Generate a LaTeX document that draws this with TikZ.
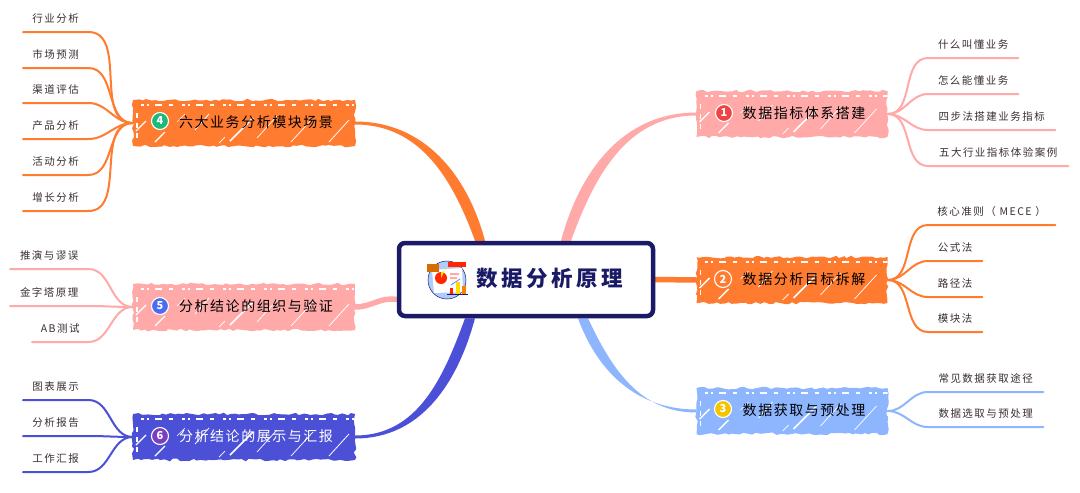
\documentclass[tikz,border=0pt]{standalone}
\usepackage{fontspec}
\setmainfont{Noto Sans CJK SC}
\newfontfamily\leaffont[LetterSpace=14]{Noto Sans CJK SC}
\newfontfamily\topicfont[LetterSpace=11]{Noto Sans CJK SC}
\newfontfamily\rootfont[LetterSpace=16]{Noto Sans CJK SC}
\usetikzlibrary{decorations.pathmorphing}
\pgfdeclarelayer{background}
\pgfsetlayers{background,main}
\definecolor{pinkbr}{HTML}{FFA9A9}
\definecolor{orangebr}{HTML}{FF7B30}
\definecolor{skybr}{HTML}{8DB6FF}
\definecolor{indigobr}{HTML}{4B50D6}
\definecolor{navyroot}{HTML}{1A1A66}
\definecolor{leafink}{HTML}{3A2E2E}
\definecolor{badgered}{HTML}{F04444}
\definecolor{badgeyellow}{HTML}{F5C400}
\definecolor{badgegreen}{HTML}{1DB97A}
\definecolor{badgeblue}{HTML}{4A6CF0}
\definecolor{badgeviolet}{HTML}{7A3FBF}
% white pencil marks, measured from the start of the topic's text line
\newcommand{\scribble}{%
  \draw[white,line width=2.2,dash pattern=on 3pt off 3pt on 2pt off 6pt on 7pt off 7pt on 4pt off 9pt] (-14,-22.5) -- (203,-22.5);
  \draw[white,line width=1.4,dash pattern=on 5pt off 5pt] (-18,-14.5) -- (-18,12.5);
  \draw[white,line width=1.4] (-19,3.5) -- (-9,-6.5);
  \draw[white,line width=1.4] (0,14.5) -- (10,4.5);
  \draw[white,line width=.6] (22,-5.5) -- (30,-13.5);
  \draw[white,line width=.8] (40,2.5) -- (54,-13.5);
  \draw[white,line width=1.6] (75,13.5) -- (98,-9.5);
  \draw[white,line width=.7] (64,15.5) -- (70,9.5);
  \draw[white,line width=.7] (102,10.5) -- (122,-11.5);
  \draw[white,line width=.7] (136,14.5) -- (158,-9.5);
  \draw[white,line width=.8] (174,14.5) -- (194,-7.5);}
\begin{document}
\begin{tikzpicture}
                [
                x=1pt,y=-1pt,
                rootbox/.style={rectangle,rounded corners=6,draw=navyroot,line width=4.5,fill=white,minimum width=254,minimum height=73},
                topic/.style={rectangle,inner sep=0,inner xsep=22,align=right,minimum height=46,text height=11,text depth=2,font=\topicfont\fontsize{14}{16}\selectfont,preaction={fill=#1,decorate,decoration={random steps,segment length=4,amplitude=1.3}},path picture={\scribble}},
                badge/.style={circle,draw=white,line width=1.1,inner sep=0,minimum size=17,text=white,font=\bfseries\fontsize{11}{12}\selectfont},
                leaf/.style={rectangle,anchor=south west,inner sep=0,minimum height=28,text height=11.5,text depth=1.5,text=leafink,font=\leaffont\fontsize{10.5}{12}\selectfont},
                trunk/.style={line width=5.5,line cap=round},
                twig/.style={line width=2,line cap=round}
                ]
            \useasboundingbox (0,0) rectangle (1080,493);
            % root
            \node[rootbox] (root) at (526,279.5) {};
            \node[anchor=west,text=navyroot,font=\rootfont\bfseries\fontsize{21.5}{24}\selectfont] (title) at (473,278) {数据分析原理};
            % icon
            \fill[skybr!70] (447,280) circle (19);
            \draw[navyroot,line width=.5] (447,280) circle (19);
            \fill[white] (432,270) -- (462,268) -- (463,292) -- (434,293) -- cycle;
            \fill[red!70!orange] (441,278) circle (6);
            \fill[yellow!85!orange] (441,278) -- (441,272) arc (90:0:6) -- cycle;
            \fill[pinkbr] (450,273) rectangle (459,275) (450,277) rectangle (457,279);
            \draw[skybr!70!blue,line width=.8] (451,285) -- (460,279);
            \fill[orange!85!black] (427,264) rectangle (439,272);
            \fill[red!70!orange] (448,262) rectangle (466,267);
            \fill[red!70!orange] (450,288) rectangle (453,294);
            \fill[yellow!80!orange] (456,282) rectangle (460,294);
            \fill[orange] (462,286) rectangle (466,294);
            \draw[navyroot,line width=1.2] (447,294.5) -- (468,294.5);
            % topics
            \node[topic=pinkbr,text width=147] (t1) at (792,114) {数据指标体系搭建};
            \node[topic=orangebr,text width=147] (t2) at (792,280) {数据分析目标拆解};
            \node[topic=skybr,text width=147] (t3) at (792,411) {数据获取与预处理};
            \node[topic=orangebr,text width=178] (t4) at (244,123) {六大业务分析模块场景};
            \node[topic=pinkbr,text width=178] (t5) at (244,307) {分析结论的组织与验证};
            \node[topic=indigobr,text width=178,text=white] (t6) at (244,437) {分析结论的展示与汇报};
            % badges
            \node[badge,fill=badgered] (b1) at (724,113) {1};
            \node[badge,fill=orangebr] (b2) at (723,279) {2};
            \node[badge,fill=badgeyellow] (b3) at (723,409) {3};
            \node[badge,fill=badgegreen] (b4) at (160,121) {4};
            \node[badge,fill=badgeblue] (b5) at (160,306) {5};
            \node[badge,fill=badgeviolet] (b6) at (160,436) {6};
            % leaves
            \node[leaf,minimum width=90] (l11) at (928,58) {什么叫懂业务};
            \node[leaf,minimum width=90] (l12) at (928,94) {怎么能懂业务};
            \node[leaf,minimum width=127] (l13) at (928,130) {四步法搭建业务指标};
            \node[leaf,minimum width=140] (l14) at (928,166) {五大行业指标体验案例};
            \node[leaf,minimum width=127] (l21) at (928,225) {核心准则（ MECE ）};
            \node[leaf,minimum width=54] (l22) at (928,261) {公式法};
            \node[leaf,minimum width=54] (l23) at (928,297) {路径法};
            \node[leaf,minimum width=54] (l24) at (928,332) {模块法};
            \node[leaf,minimum width=115] (l31) at (928,392) {常见数据获取途径};
            \node[leaf,minimum width=115] (l32) at (928,427) {数据选取与预处理};
            \node[leaf,minimum width=65] (l41) at (23,32) {行业分析};
            \node[leaf,minimum width=65] (l42) at (23,68) {市场预测};
            \node[leaf,minimum width=65] (l43) at (23,103) {渠道评估};
            \node[leaf,minimum width=65] (l44) at (23,139) {产品分析};
            \node[leaf,minimum width=65] (l45) at (23,175) {活动分析};
            \node[leaf,minimum width=65] (l46) at (23,211) {增长分析};
            \node[leaf,minimum width=78,xshift=-4] (l51) at (14,269) {推演与谬误};
            \node[leaf,minimum width=78,xshift=-4] (l52) at (14,306) {金字塔原理};
            \node[leaf,minimum width=56,xshift=-4] (l53) at (36,342) {AB测试};
            \node[leaf,minimum width=65] (l61) at (23,400) {图表展示};
            \node[leaf,minimum width=65] (l62) at (23,436) {分析报告};
            \node[leaf,minimum width=65] (l63) at (23,472) {工作汇报};
            \begin{pgfonlayer}{background}
            \fill[pinkbr] ([xshift=35]root.north) to[out=75,in=180] ([yshift=1.5]t1.west) -- ([yshift=-1.5]t1.west) to[out=180,in=70] ([xshift=45]root.north) -- cycle;
            \draw[trunk,orangebr] (root.east) -- (t2.west);
            \fill[skybr] ([xshift=52]root.south) to[out=-70,in=180] ([yshift=1.5]t3.west) -- ([yshift=-1.5]t3.west) to[out=180,in=-65] ([xshift=62]root.south) -- cycle;
            \fill[orangebr] ([xshift=-41]root.north) to[out=105,in=0] ([yshift=1.5]t4.east) -- ([yshift=-1.5]t4.east) to[out=0,in=110] ([xshift=-51]root.north) -- cycle;
            \draw[trunk,pinkbr] ([yshift=-20]root.west) to[out=170,in=0] (t5.east);
            \fill[indigobr] ([xshift=-51]root.south) to[out=-105,in=0] ([yshift=-1.5]t6.east) -- ([yshift=1.5]t6.east) to[out=0,in=-110] ([xshift=-61]root.south) -- cycle;
            \draw[twig,pinkbr] (t1.east) to[out=0,in=180] (l11.south west) -- (l11.south east);
            \draw[twig,pinkbr] (t1.east) to[out=0,in=180] (l12.south west) -- (l12.south east);
            \draw[twig,pinkbr] (t1.east) to[out=0,in=180] (l13.south west) -- (l13.south east);
            \draw[twig,pinkbr] (t1.east) to[out=0,in=180] (l14.south west) -- (l14.south east);
            \draw[twig,orangebr] (t2.east) to[out=0,in=180] (l21.south west) -- (l21.south east);
            \draw[twig,orangebr] (t2.east) to[out=0,in=180] (l22.south west) -- (l22.south east);
            \draw[twig,orangebr] (t2.east) to[out=0,in=180] (l23.south west) -- (l23.south east);
            \draw[twig,orangebr] (t2.east) to[out=0,in=180] (l24.south west) -- (l24.south east);
            \draw[twig,skybr] (t3.east) to[out=0,in=180] (l31.south west) -- (l31.south east);
            \draw[twig,skybr] (t3.east) to[out=0,in=180] (l32.south west) -- (l32.south east);
            \draw[twig,orangebr] (t4.west) to[out=180,in=0] (l41.south east) -- (l41.south west);
            \draw[twig,orangebr] (t4.west) to[out=180,in=0] (l42.south east) -- (l42.south west);
            \draw[twig,orangebr] (t4.west) to[out=180,in=0] (l43.south east) -- (l43.south west);
            \draw[twig,orangebr] (t4.west) to[out=180,in=0] (l44.south east) -- (l44.south west);
            \draw[twig,orangebr] (t4.west) to[out=180,in=0] (l45.south east) -- (l45.south west);
            \draw[twig,orangebr] (t4.west) to[out=180,in=0] (l46.south east) -- (l46.south west);
            \draw[twig,pinkbr] (t5.west) to[out=180,in=0] (l51.south east) -- (l51.south west);
            \draw[twig,pinkbr] (t5.west) to[out=180,in=0] (l52.south east) -- (l52.south west);
            \draw[twig,pinkbr] (t5.west) to[out=180,in=0] (l53.south east) -- (l53.south west);
            \draw[twig,indigobr] (t6.west) to[out=180,in=0] (l61.south east) -- (l61.south west);
            \draw[twig,indigobr] (t6.west) to[out=180,in=0] (l62.south east) -- (l62.south west);
            \draw[twig,indigobr] (t6.west) to[out=180,in=0] (l63.south east) -- (l63.south west);
            \end{pgfonlayer}
            \end{tikzpicture}
\end{document}
